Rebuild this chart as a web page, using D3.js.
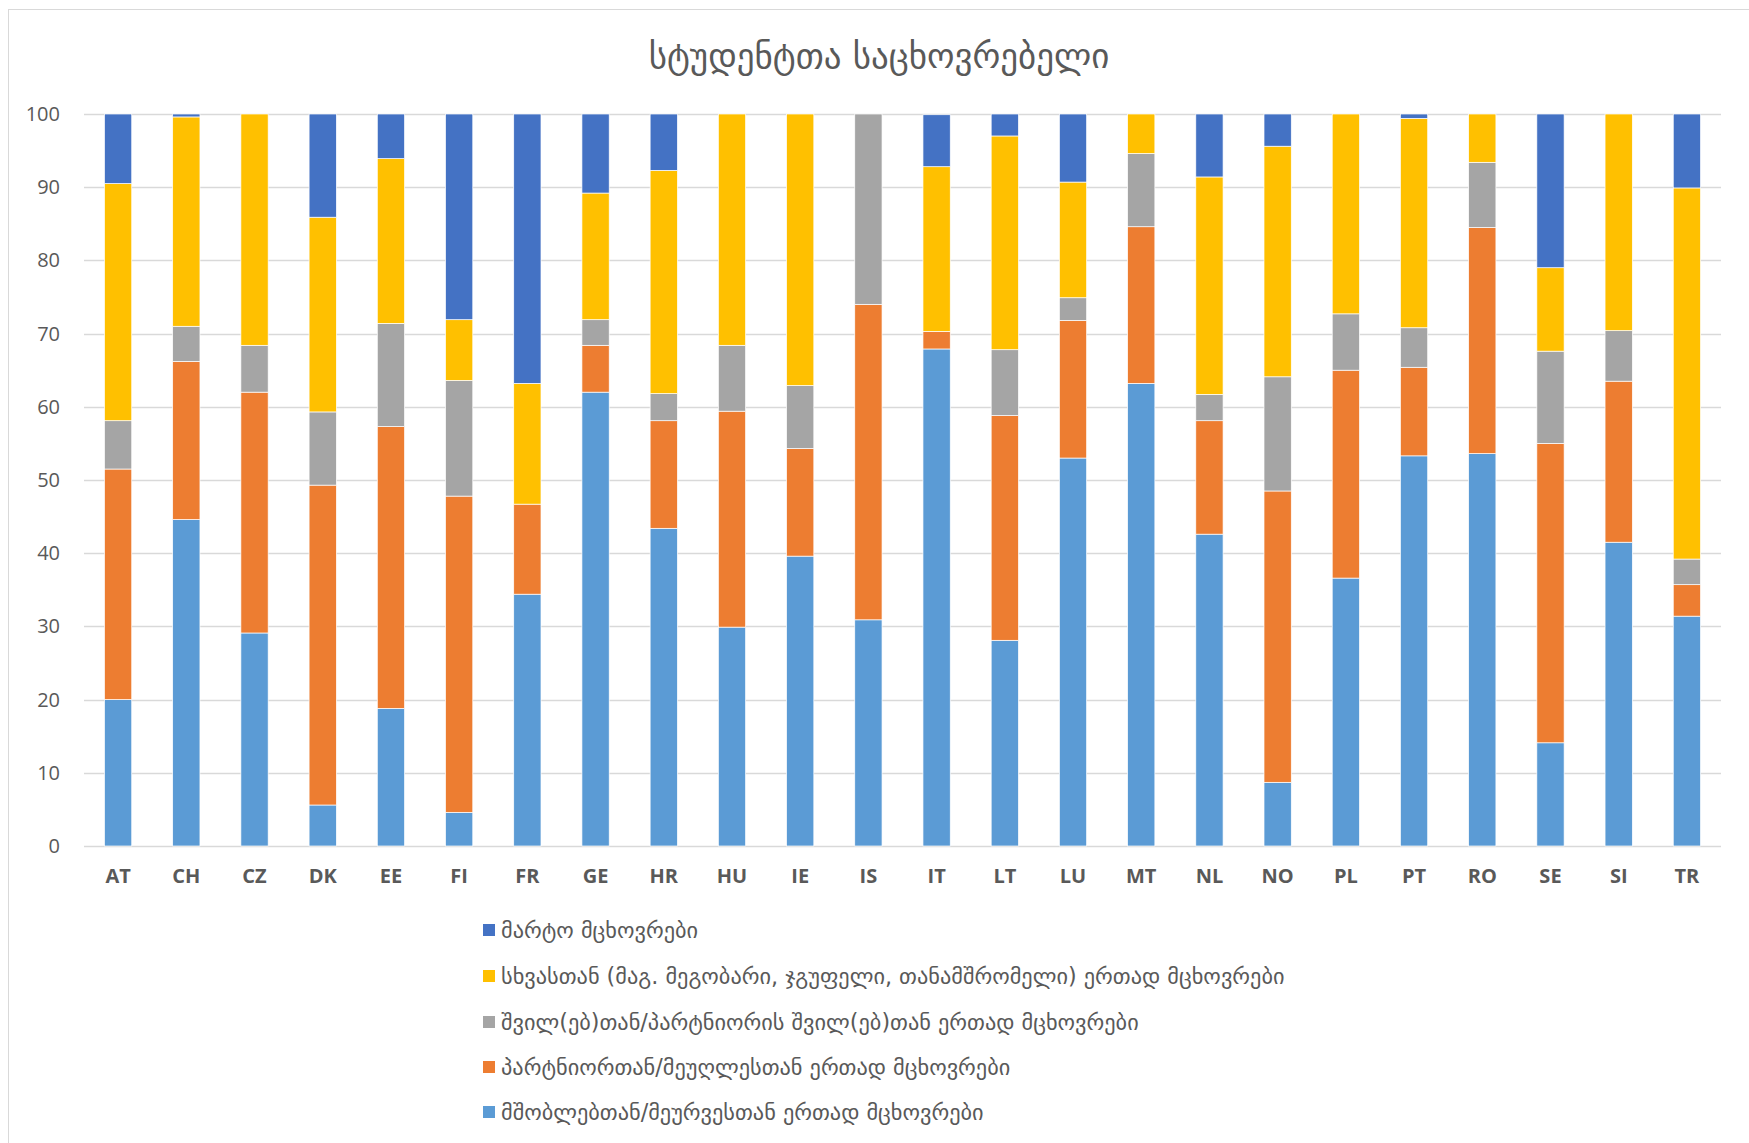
<!DOCTYPE html>
<html lang="en">
<head>
    <meta charset="UTF-8">
    <title>სტუდენტთა საცხოვრებელი</title>
    <script src="https://d3js.org/d3.v7.min.js"></script>
    <style>
        body { margin: 0; padding: 0; background: #fff; overflow: hidden; }
        svg { display: block; }
        .geo { font-family: "DejaVu Sans", sans-serif; fill: #595959; }
        .num { font-family: "Open Sans", "Liberation Sans", sans-serif; fill: #595959; }
    </style>
</head>
<body>
    <svg id="chart"></svg>
    <script>
        const width = 1749, height = 1143;

        const countries = ["AT", "CH", "CZ", "DK", "EE", "FI", "FR", "GE", "HR", "HU", "IE", "IS",
                           "IT", "LT", "LU", "MT", "NL", "NO", "PL", "PT", "RO", "SE", "SI", "TR"];

        // stack order bottom -> top
        const withParents  = [20.0, 44.6, 29.1, 5.6, 18.8, 4.6, 34.4, 62.0, 43.4, 29.9, 39.6, 30.9,
                              67.9, 28.1, 53.0, 63.2, 42.6, 8.7, 36.6, 53.3, 53.6, 14.1, 41.5, 31.4];
        const withPartner  = [31.5, 21.6, 32.9, 43.7, 38.5, 43.2, 12.3, 6.4, 14.7, 29.5, 14.7, 43.1,
                              2.4, 30.7, 18.8, 21.4, 15.5, 39.8, 28.4, 12.1, 30.9, 40.9, 22.0, 4.3];
        const withChildren = [6.6, 4.8, 6.4, 10.0, 14.1, 15.8, 0, 3.5, 3.7, 9.0, 8.6, 26.0,
                              0, 9.0, 3.1, 10.0, 3.6, 15.6, 7.7, 5.4, 8.9, 12.6, 6.9, 3.5];
        const withOthers   = [32.4, 28.6, 31.6, 26.6, 22.5, 8.3, 16.5, 17.3, 30.5, 31.6, 37.1, 0,
                              22.5, 29.2, 15.8, 5.4, 29.7, 31.5, 27.3, 28.6, 6.6, 11.4, 29.6, 50.7];
        const alone        = [9.5, 0.4, 0, 14.1, 6.1, 28.1, 36.8, 10.8, 7.7, 0, 0, 0,
                              7.1, 3.0, 9.3, 0, 8.6, 4.4, 0, 0.6, 0, 21.0, 0, 10.1];

        const seriesNames = [
            "მშობლებთან/მეურვესთან ერთად მცხოვრები",
            "პარტნიორთან/მეუღლესთან ერთად მცხოვრები",
            "შვილ(ებ)თან/პარტნიორის შვილ(ებ)თან ერთად მცხოვრები",
            "სხვასთან (მაგ. მეგობარი, ჯგუფელი, თანამშრომელი) ერთად მცხოვრები",
            "მარტო მცხოვრები"
        ];
        const seriesValues = [withParents, withPartner, withChildren, withOthers, alone];
        const colors = ["#5B9BD5", "#ED7D31", "#A5A5A5", "#FFC000", "#4472C4"];
        const yTicks = [0, 10, 20, 30, 40, 50, 60, 70, 80, 90, 100];
        const title = "სტუდენტთა საცხოვრებელი";

        const margin = { top: 114, right: 28, bottom: 297, left: 84 };

        const svg = d3.select("#chart")
            .attr("width", width)
            .attr("height", height);

        // chart border
        svg.append("rect")
            .attr("x", 8.5).attr("y", 9.5)
            .attr("width", 1780).attr("height", 1180)
            .attr("fill", "#fff")
            .attr("stroke", "#d9d9d9");

        svg.append("text")
            .attr("class", "geo")
            .attr("x", 879)
            .attr("y", 68)
            .attr("text-anchor", "middle")
            .style("font-size", "35px")
            .text(title);

        const x = d3.scaleBand()
            .domain(countries)
            .range([margin.left, width - margin.right])
            .paddingInner(0.6)
            .paddingOuter(0.3);

        const y = d3.scaleLinear()
            .domain([0, 100])
            .range([height - margin.bottom, margin.top]);

        // gridlines
        svg.append("g")
            .selectAll("line")
            .data(yTicks)
            .enter().append("line")
            .attr("x1", margin.left)
            .attr("x2", width - margin.right)
            .attr("y1", d => Math.round(y(d)) + 0.5)
            .attr("y2", d => Math.round(y(d)) + 0.5)
            .attr("stroke", "#d9d9d9")
            .attr("stroke-width", 1.5);

        // y labels
        const yAxis = svg.append("g")
            .attr("transform", `translate(${margin.left - 24},0)`)
            .call(d3.axisLeft(y).tickValues(yTicks).tickSize(0).tickPadding(0));
        yAxis.select(".domain").remove();
        yAxis.selectAll("text")
            .attr("class", "num")
            .attr("fill", "#595959")
            .style("font-size", "20px");

        // stacked data
        const rows = countries.map((c, i) => {
            const r = { country: c };
            seriesValues.forEach((s, k) => { r["s" + k] = s[i]; });
            return r;
        });
        const stack = d3.stack().keys(seriesValues.map((s, k) => "s" + k));
        const stacked = stack(rows);

        svg.append("g")
            .selectAll("g")
            .data(stacked)
            .enter().append("g")
            .attr("fill", (d, i) => colors[i])
            .selectAll("rect")
            .data(d => d)
            .enter().append("rect")
            .attr("x", d => x(d.data.country))
            .attr("width", x.bandwidth())
            .attr("y", d => y(d[1]))
            .attr("height", d => Math.max(0, y(d[0]) - y(d[1])))
            .attr("stroke", "#fff")
            .attr("stroke-width", 0.7);

        // x labels
        const xAxis = svg.append("g")
            .attr("transform", `translate(0,${height - margin.bottom})`)
            .call(d3.axisBottom(x).tickSize(0).tickPadding(23));
        xAxis.select(".domain").remove();
        xAxis.selectAll("text")
            .attr("class", "num")
            .attr("fill", "#595959")
            .style("font-size", "20px")
            .style("font-weight", "bold");

        // legend (reverse order)
        const legendY = [930, 976, 1022, 1067, 1112];
        const legend = svg.append("g");
        seriesNames.slice().reverse().forEach((name, i) => {
            const k = seriesNames.length - 1 - i;
            legend.append("rect")
                .attr("x", 483)
                .attr("y", legendY[i] - 6)
                .attr("width", 12)
                .attr("height", 12)
                .attr("fill", colors[k]);
            legend.append("text")
                .attr("class", "geo")
                .attr("x", 501)
                .attr("y", legendY[i] + 8)
                .style("font-size", "22.3px")
                .text(name);
        });
    </script>
</body>
</html>
